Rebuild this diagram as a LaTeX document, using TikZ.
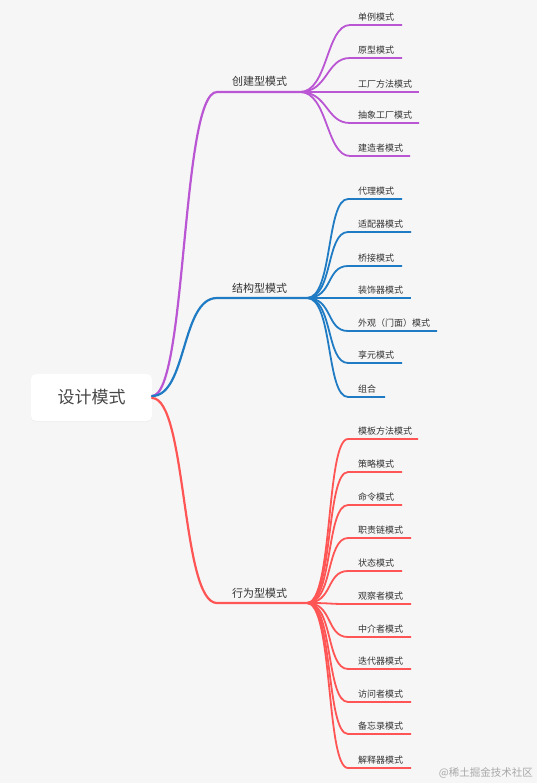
\documentclass[tikz,border=0pt]{standalone}
\usepackage{fontspec}
\setmainfont{Noto Sans CJK SC}
\usetikzlibrary{shadows}
\definecolor{bgc}{HTML}{F6F6F6}
\definecolor{purp}{HTML}{BA55D3}
\definecolor{blu}{HTML}{1F7CC4}
\definecolor{redc}{HTML}{FF5555}
\definecolor{txt}{HTML}{333333}
\definecolor{wm}{HTML}{A8A8A8}
\begin{document}
\begin{tikzpicture}[x=1pt,y=-1pt,
  leaf/.style={font=\fontsize{9}{10}\selectfont, text=txt, inner sep=0pt, anchor=base west},
  mid/.style={font=\fontsize{11}{12}\selectfont, text=txt, inner sep=0pt, anchor=base west},
  rootbox/.style={fill=white, rounded corners=5pt, minimum width=121pt, minimum height=47pt,
    font=\fontsize{17}{18}\selectfont, text=txt!90!white, inner sep=0pt,
    drop shadow={opacity=0.06, shadow xshift=0pt, shadow yshift=-1pt}},
  brA/.style={draw=purp, line width=2.2pt},
  brB/.style={draw=blu, line width=2.2pt},
  brC/.style={draw=redc, line width=2.2pt},
  lfA/.style={draw=purp, line width=1.8pt},
  lfB/.style={draw=blu, line width=1.8pt},
  lfC/.style={draw=redc, line width=1.8pt}]
\fill[bgc] (0,0) rectangle (537,783);
\useasboundingbox (0,0) rectangle (537,783);

% root
\node[rootbox] (root) at (91.5,397.5) {设计模式};
\coordinate (r1) at (152,396);
\coordinate (r2) at (152,398);

% branch hubs
\coordinate (As) at (217,92);  \coordinate (A) at (300,92);
\coordinate (Bs) at (217,298); \coordinate (B) at (307,298);
\coordinate (Cs) at (217,603); \coordinate (C) at (307,603);
\node[mid] (An) at (232,86) {创建型模式};
\node[mid] (Bn) at (232,292) {结构型模式};
\node[mid] (Cn) at (232,597) {行为型模式};

\draw[brA, line cap=round] (r1) .. controls +(35,0) and +(-36,0) .. (As) -- (A);
\draw[brB, line cap=round] (r1) .. controls +(35,0) and +(-36,0) .. (Bs) -- (B);
\draw[brC, line cap=round] (r2) .. controls +(35,0) and +(-36,0) .. (Cs) -- (C);

% creational
\foreach \n/\y/\t/\e in {a1/25/单例模式/402, a2/58/原型模式/402, a3/92/工厂方法模式/419,
  a4/123/抽象工厂模式/419, a5/156/建造者模式/410} {
  \coordinate (\n-s) at (350,\y);
  \coordinate (\n-e) at (\e,\y);
  \node[leaf] (\n) at (358,\y-4.5) {\t};
  \draw[lfA] (A) .. controls +(28,0) and +(-24,0) .. (\n-s) -- (\n-e);
}
% structural
\foreach \n/\y/\t/\e in {b1/199/代理模式/402, b2/232/适配器模式/411, b3/266/桥接模式/402,
  b4/298/装饰器模式/411, b5/331/外观（门面）模式/437, b6/363/享元模式/402, b7/397/组合/385} {
  \coordinate (\n-s) at (348,\y);
  \coordinate (\n-e) at (\e,\y);
  \node[leaf] (\n) at (358,\y-4.5) {\t};
  \draw[lfB] (B) .. controls +(26,0) and +(-22,0) .. (\n-s) -- (\n-e);
}
% behavioral
\foreach \n/\y/\t/\e in {c1/439/模板方法模式/418, c2/472/策略模式/402, c3/505/命令模式/402,
  c4/538/职责链模式/411, c5/571/状态模式/402, c6/604/观察者模式/411, c7/637/中介者模式/411,
  c8/669/迭代器模式/411, c9/702/访问者模式/411, c10/734/备忘录模式/411, c11/768/解释器模式/411} {
  \coordinate (\n-s) at (348,\y);
  \coordinate (\n-e) at (\e,\y);
  \node[leaf] (\n) at (358,\y-4.5) {\t};
  \draw[lfC] (C) .. controls +(26,0) and +(-22,0) .. (\n-s) -- (\n-e);
}

\node[font=\fontsize{10.5}{11}\selectfont, text=wm, anchor=east, inner sep=0pt] (wmk) at (533,773) {@稀土掘金技术社区};
\end{tikzpicture}
\end{document}
